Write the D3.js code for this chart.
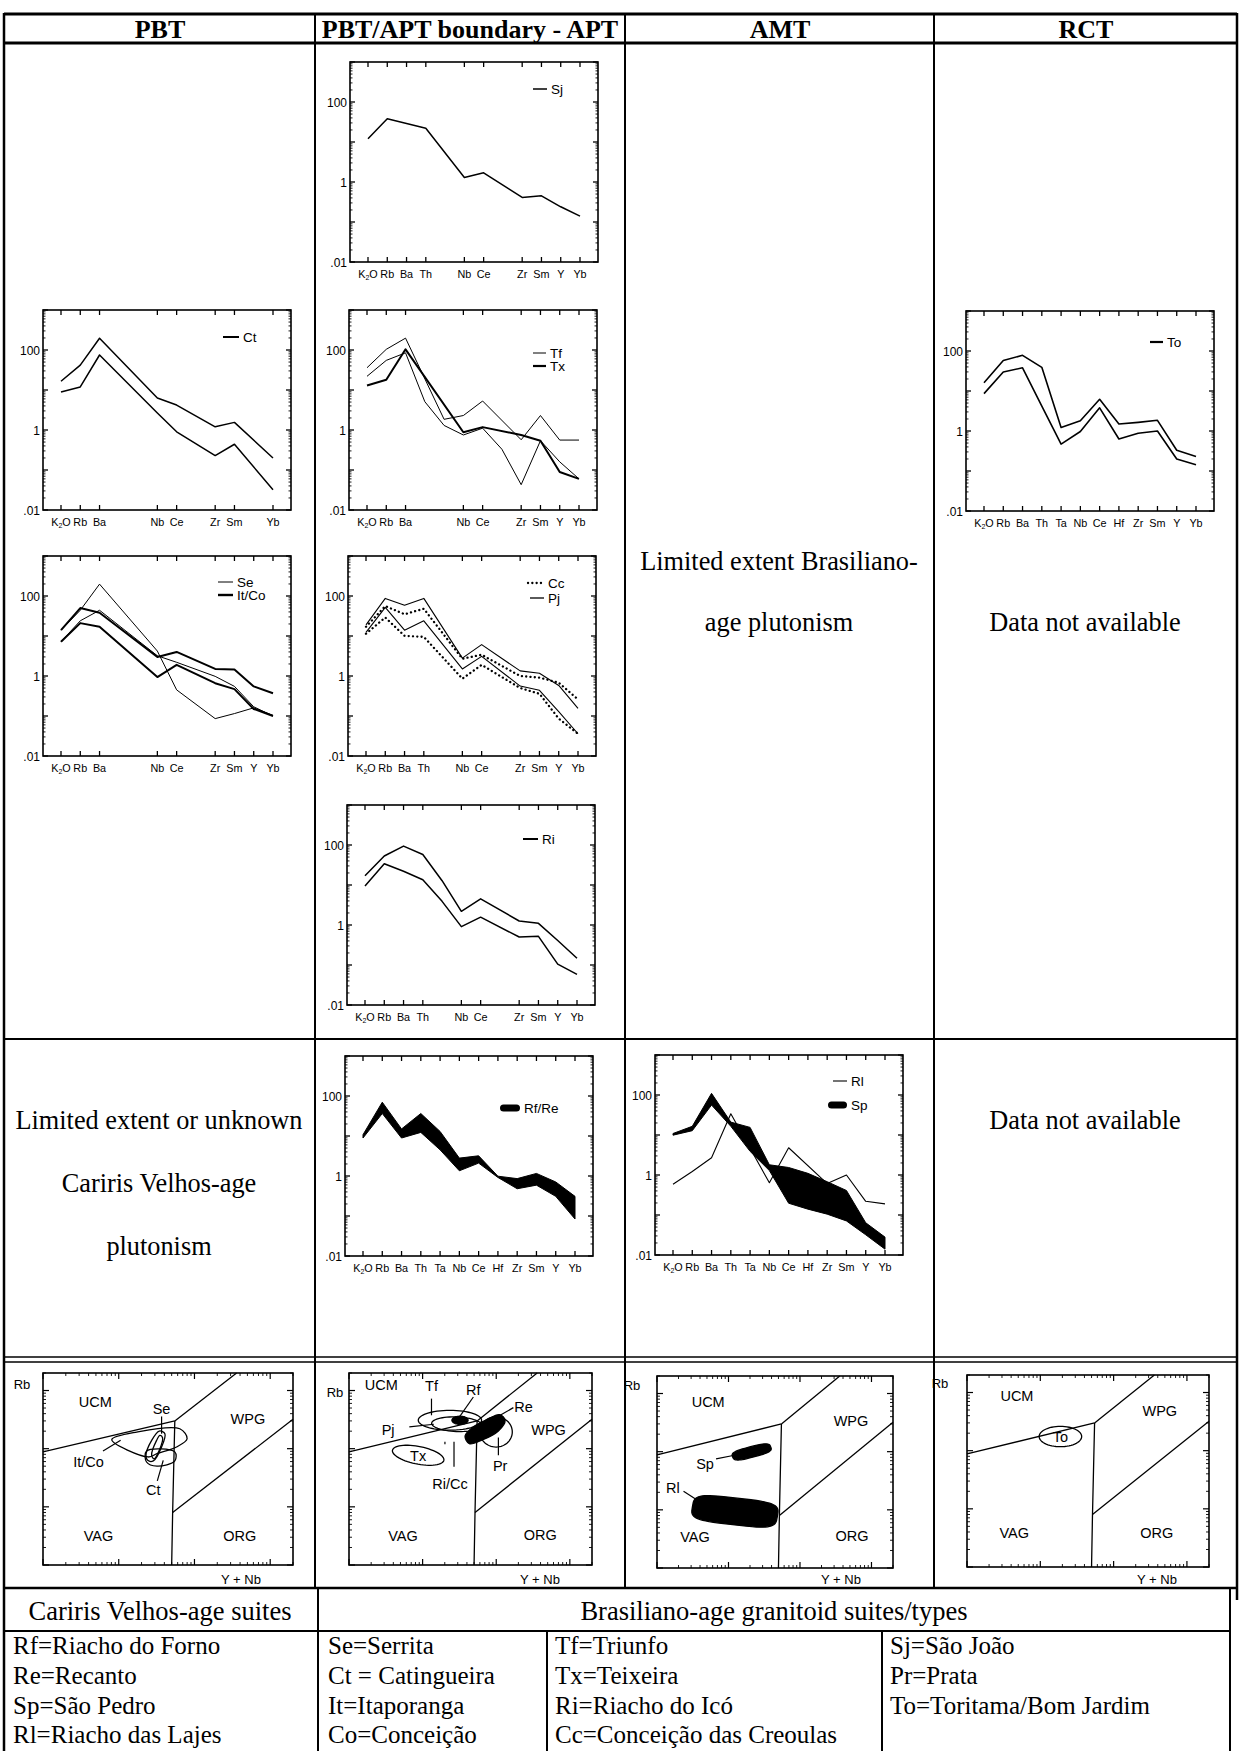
<!DOCTYPE html>
<html><head><meta charset="utf-8">
<script src="https://cdn.jsdelivr.net/npm/d3@7"></script>
<style>body{margin:0;background:#fff} svg{display:block}</style>
</head><body>
<svg id="fig" width="1242" height="1751"></svg>
<script>
// ---------------- DATA ----------------
const ELEMENTS = ["K2O","Rb","Ba","Th","Ta","Nb","Ce","Hf","Zr","Sm","Y","Yb"];
const LABELS_CT = ["K2O","Rb","Ba","Nb","Ce","Zr","Sm","Yb"];
const LABELS_NO_TH = ["K2O","Rb","Ba","Nb","Ce","Zr","Sm","Y","Yb"];
const LABELS_TH = ["K2O","Rb","Ba","Th","Nb","Ce","Zr","Sm","Y","Yb"];
const LABELS_ALL = ELEMENTS;
const Y_TICK_VALUES = [100, 1, 0.01];
const Y_TICK_TEXT = ["100", "1", ".01"];

// spider diagram series (normalized values), order = ELEMENTS
const sj    = [12, 38, 29, 22, null, 1.3, 1.7, null, 0.41, 0.45, 0.24, 0.14];
const ctHi  = [16.5, 42, 197, null, null, 6.3, 4.2, null, 1.2, 1.55, null, 0.2];
const ctLo  = [8.9, 11.9, 75, null, null, 2.66, 0.9, null, 0.23, 0.44, null, 0.032];
const tfA   = [36, 104, 198, null, 1.85, 2.3, 5.3, null, 0.57, 2.3, 0.56, 0.56];
const tfB   = [22, 55, 85, 5.1, 1.3, 0.75, 1.11, 0.33, 0.043, 0.54, 0.16, 0.06];
const tx    = [13, 18, 104, null, null, 0.88, 1.18, null, 0.75, 0.54, 0.089, 0.06];
const seA   = [14, 44, 198, null, null, 4.2, 0.45, null, 0.086, 0.115, 0.16, 0.104];
const seB   = [7.2, 24, 44, null, null, 3.2, 2.2, null, 0.98, 0.55, 0.17, 0.1];
const itcoHi= [14, 50, 38, null, null, 3.0, 4.0, null, 1.5, 1.45, 0.55, 0.37];
const itcoLo= [7.2, 21, 17, null, null, 0.94, 1.9, null, 0.66, 0.47, 0.15, 0.1];
const pjHi  = [19, 87, 59, 87, null, 2.8, 6.1, null, 1.34, 1.17, 0.58, 0.155];
const pjLo  = [12.3, 52, 14, 24, null, 1.5, 3.1, null, 0.56, 0.44, 0.128, 0.036];
const ccHi  = [17, 56, 35, 48, null, 2.7, 3.4, null, 1.0, 0.91, 0.68, 0.26];
const ccLo  = [11.4, 29, 10.1, 9.5, null, 0.86, 1.9, null, 0.5, 0.36, 0.086, 0.036];
const riHi  = [17, 53, 94, 58, 12.8, 2.2, 4.5, null, 1.26, 1.1, 0.41, 0.147];
const riLo  = [9.5, 34, 22, 13.5, 3.9, 0.91, 1.57, null, 0.5, 0.52, 0.105, 0.058];
const toHi  = [16, 58, 78, 39, 1.23, 1.81, 6.2, 1.49, 1.64, 1.85, 0.33, 0.23];
const toLo  = [8.6, 30, 38, 4.2, 0.47, 0.97, 3.8, 0.63, 0.88, 1.0, 0.2, 0.144];
const rfreHi= [10.8, 70, 15, 36.5, 13, 2.8, 3.2, 0.99, 0.86, 1.16, 0.71, 0.31];
const rfreLo= [8.9, 36.5, 8.9, 12.3, 4.5, 1.35, 2.1, 0.92, 0.48, 0.59, 0.31, 0.084];
const spHi  = [10.9, 16.5, 110, 21, 15.5, 1.8, 1.54, 1.1, 0.68, 0.41, 0.064, 0.028];
const spLo  = [9.9, 12.8, 56, 16.5, 3.9, 1.29, 0.197, 0.14, 0.105, 0.071, 0.032, 0.014];
const rl    = [0.59, 1.22, 2.7, 34, null, 0.64, 4.8, null, 0.61, 1.0, 0.22, 0.19];

// Rb vs Y+Nb discrimination diagram (ppm)
const DISC_DOMAIN = [1, 2000];
const BND_VAG_UCM = [[1, 88], [55, 300]];
const BND_UCM_WPG = [[55, 300], [360, 2000]];
const BND_VAG_ORG = [[55, 300], [51.5, 8], [50, 1]];
const BND_WPG_ORG = [[51.5, 8], [2000, 320]];

const PBT_ITCO = [[8.1,143],[17.3,193],[64,220],[80,148],[58,107],[32,82],[24.5,72]];
const PBT_CT = [[23.3,91],[55,88],[55,61.5],[32,50],[23.3,59]];
const PBT_SE_OUTER = [[22.9,77],[27.2,139],[34.3,201],[40.7,181],[36.8,107],[28.6,61.5],[24.1,63]];
const PBT_SE_INNER = [[27.2,77],[31.6,139],[35,169],[37.9,154],[34.3,94],[29.2,67]];
const PBT_LABELS = [["UCM",4.9,631],["Se",36.8,485],["WPG",508,327],["It/Co",4.0,59],["Ct",28.6,19.3],["VAG",5.4,3.1],["ORG",395,3.1]];
const PBT_POINTERS = [[[36.8,358],[36.8,181]],[[6.2,91],[10.6,139]],[[32.3,27.9],[38.7,63]]];

const APT_TF = {cx:23.5, cy:308, rx:0.43, ry:0.17, angle:0};
const APT_PJ = {cx:29, cy:263, rx:0.34, ry:0.125, angle:-3};
const APT_RF = {cx:32.2, cy:308, rx:0.11, ry:0.07, angle:0};
const APT_RE = [[37.7,164],[48.9,237],[74.3,316],[111,385],[132,308],[107,202],[63.5,140],[43.1,122]];
const APT_PR = {cx:99.6, cy:194, rx:0.22, ry:0.26, angle:0};
const APT_TX = {cx:8.7, cy:77, rx:0.36, ry:0.15, angle:-15};
const APT_LABELS = [["UCM",2.75,1228],["Tf",13.2,1180],["Rf",48.9,1035],["Re",235,521],["WPG",514,207],["Pj",3.4,207],["Tx",8.7,75],["Ri/Cc",23.5,25],["Pr",113,50],["VAG",5.4,3.1],["ORG",396,3.3]];
const APT_POINTERS = [[[13.2,725],[13.2,375]],[[48.9,774],[30.5,329]],[[171,508],[113,375]],[[6.6,237],[14.2,263]],[[26.7,131],[26.7,48.7]],[[20.1,131],[20.1,119]],[[107,155],[107,77]]];

const AMT_SP = {cx:21.1, cy:99, rx:0.28, ry:0.09, angle:18, p:0.6};
const AMT_RL = {cx:12.3, cy:9.4, rx:0.6, ry:0.23, angle:-8, p:0.5};
const AMT_LABELS = [["UCM",5.2,703],["WPG",517,343],["Sp",4.7,61],["Rl",1.67,23.5],["VAG",3.4,3.45],["ORG",533,3.6]];
const AMT_POINTERS = [[[6.7,75],[11.6,86]],[[2.35,20.8],[3.87,14]]];

const RCT_TO = {cx:18.8, cy:175, rx:0.29, ry:0.175, angle:0};
const RCT_LABELS = [["UCM",4.8,855],["WPG",427,487],["To",18.8,175],["VAG",4.4,3.8],["ORG",388,3.8]];

// text
const COLUMN_HEADERS = ["PBT","PBT/APT boundary - APT","AMT","RCT"];
const AMT_NOTE = ["Limited extent Brasiliano-","age plutonism"];
const PBT_NOTE = ["Limited extent or unknown","Cariris Velhos-age","plutonism"];
const NA_NOTE = "Data not available";
const LEGEND_HEADERS = ["Cariris Velhos-age suites","Brasiliano-age granitoid suites/types"];
const LEGEND_COL1 = ["Rf=Riacho do Forno","Re=Recanto","Sp=São Pedro","Rl=Riacho das Lajes"];
const LEGEND_COL2 = ["Se=Serrita","Ct = Catingueira","It=Itaporanga","Co=Conceição"];
const LEGEND_COL3 = ["Tf=Triunfo","Tx=Teixeira","Ri=Riacho do Icó","Cc=Conceição das Creoulas"];
const LEGEND_COL4 = ["Sj=São João","Pr=Prata","To=Toritama/Bom Jardim"];

// ---------------- DRAWING ----------------
const svg = d3.select("#fig");
const SANS = "'Liberation Sans', Arial, Helvetica, sans-serif";
const SERIF = "'Liberation Serif', 'Times New Roman', serif";

function ln(g, x1, y1, x2, y2, w) {
  g.append("line").attr("x1",x1).attr("y1",y1).attr("x2",x2).attr("y2",y2)
   .attr("stroke","#000").attr("stroke-width",w);
}

function logTicks(lo, hi) {
  const major = [], minor = [];
  for (let e = Math.floor(Math.log10(lo)); e <= Math.ceil(Math.log10(hi)); e++) {
    for (let m = 1; m <= 9; m++) {
      const v = m * Math.pow(10, e);
      if (v < lo * 0.999 || v > hi * 1.001) continue;
      (m === 1 ? major : minor).push(v);
    }
  }
  return {major, minor};
}

function elementLabel(g, name, x, y, size) {
  const t = g.append("text").attr("x",x).attr("y",y).attr("text-anchor","middle")
    .attr("font-family",SANS).attr("font-size",size);
  if (name === "K2O") {
    t.append("tspan").text("K");
    t.append("tspan").attr("font-size",size*0.65).attr("dy",2).text("2");
    t.append("tspan").attr("dy",-2).text("O");
  } else t.text(name);
}

function spider(cfg) {
  const g = svg.append("g");
  const {x0, y0, w, h} = cfg;
  const x = d3.scalePoint().domain(ELEMENTS).range([x0 + 18, x0 + w - 18]);
  const y = d3.scaleLog().domain([0.01, 1000]).range([y0 + h, y0]);

  (cfg.bands || []).forEach(b => {
    const pts = ELEMENTS.map((e,i) => ({e, lo:b.lower[i], hi:b.upper[i]})).filter(d => d.lo != null && d.hi != null);
    g.append("path").attr("d", d3.area().x(d=>x(d.e)).y0(d=>y(d.lo)).y1(d=>y(d.hi))(pts))
      .attr("fill","#000").attr("stroke","#000").attr("stroke-width",1).attr("stroke-linejoin","round");
  });
  cfg.series.forEach(s => {
    const pts = ELEMENTS.map((e,i) => ({e, v:s.values[i]})).filter(d => d.v != null);
    const p = g.append("path").attr("d", d3.line().x(d=>x(d.e)).y(d=>y(d.v))(pts))
      .attr("fill","none").attr("stroke","#000").attr("stroke-width", s.width)
      .attr("stroke-linejoin","round");
    if (s.dots) p.attr("stroke-dasharray","0.1,4.2").attr("stroke-linecap","round");
  });

  g.append("rect").attr("x",x0).attr("y",y0).attr("width",w).attr("height",h)
    .attr("fill","none").attr("stroke","#000").attr("stroke-width",1.6);

  const lt = logTicks(0.01, 1000);
  lt.major.forEach(v => { ln(g, x0, y(v), x0+5, y(v), 1.3); ln(g, x0+w, y(v), x0+w-5, y(v), 1.3); });
  lt.minor.forEach(v => { ln(g, x0, y(v), x0+2.5, y(v), 0.9); ln(g, x0+w, y(v), x0+w-2.5, y(v), 0.9); });
  Y_TICK_VALUES.forEach((v,i) => {
    g.append("text").attr("x", x0 - 3).attr("y", y(v) + 4.5).attr("text-anchor","end")
      .attr("font-family",SANS).attr("font-size",12).text(Y_TICK_TEXT[i]);
  });
  cfg.labels.forEach(n => {
    ln(g, x(n), y0+h, x(n), y0+h-5, 1.3);
    ln(g, x(n), y0, x(n), y0+5, 1.3);
    elementLabel(g, n, x(n), y0 + h + 16, 10.8);
  });

  (cfg.legend || []).forEach(L => {
    const lx = x0 + L.dx, ly = y0 + L.dy;
    if (L.type === "band") {
      g.append("rect").attr("x",lx).attr("y",ly-3.5).attr("width",L.len).attr("height",7)
        .attr("rx",3.5).attr("fill","#000");
    } else {
      const l = g.append("line").attr("x1",lx).attr("x2",lx+L.len).attr("y1",ly).attr("y2",ly)
        .attr("stroke","#000").attr("stroke-width",L.width);
      if (L.type === "dots") l.attr("stroke-dasharray","0.1,4.2").attr("stroke-linecap","round");
    }
    g.append("text").attr("x", lx + L.len + 4).attr("y", ly + 5)
      .attr("font-family",SANS).attr("font-size",13.5).text(L.label);
  });
}

function ellipsePts(e) {
  const pts = [], n = 60, a = e.angle * Math.PI / 180, p = e.p || 1;
  for (let k = 0; k < n; k++) {
    const t = k / n * 2 * Math.PI;
    const c = Math.cos(t), s = Math.sin(t);
    const u = Math.sign(c) * Math.pow(Math.abs(c), p), v = Math.sign(s) * Math.pow(Math.abs(s), p);
    const lx = Math.log10(e.cx) + e.rx*u*Math.cos(a) - e.ry*v*Math.sin(a);
    const ly = Math.log10(e.cy) + e.rx*u*Math.sin(a) + e.ry*v*Math.cos(a);
    pts.push([Math.pow(10,lx), Math.pow(10,ly)]);
  }
  return pts;
}

function discrim(cfg) {
  const g = svg.append("g");
  const {x0, y0, w, h} = cfg;
  const x = d3.scaleLog().domain(DISC_DOMAIN).range([x0, x0 + w]);
  const y = d3.scaleLog().domain(DISC_DOMAIN).range([y0 + h, y0]);
  const path = d3.line().x(d => x(d[0])).y(d => y(d[1]));

  [BND_VAG_UCM, BND_UCM_WPG, BND_VAG_ORG, BND_WPG_ORG].forEach(b =>
    g.append("path").attr("d", path(b)).attr("fill","none").attr("stroke","#000").attr("stroke-width",1.3));

  (cfg.shapes || []).forEach(s => {
    const pts = s.ellipse ? ellipsePts(s.ellipse) : s.poly;
    const gen = s.ellipse ? path.curve(d3.curveLinearClosed) : path.curve(d3.curveCatmullRomClosed);
    g.append("path").attr("d", gen(pts))
      .attr("fill", s.fill ? "#000" : "none").attr("stroke","#000").attr("stroke-width",1.3);
    path.curve(d3.curveLinear);
  });
  (cfg.pointers || []).forEach(pt =>
    g.append("path").attr("d", path(pt)).attr("fill","none").attr("stroke","#000").attr("stroke-width",1.2));

  (cfg.labels || []).forEach(L => {
    g.append("text").attr("x", x(L[1])).attr("y", y(L[2])).attr("text-anchor","middle")
      .attr("dominant-baseline","central").attr("font-family",SANS).attr("font-size",14.5).text(L[0]);
  });

  g.append("rect").attr("x",x0).attr("y",y0).attr("width",w).attr("height",h)
    .attr("fill","none").attr("stroke","#000").attr("stroke-width",1.6);
  const lt = logTicks(DISC_DOMAIN[0], DISC_DOMAIN[1]);
  lt.major.forEach(v => {
    ln(g, x(v), y0+h, x(v), y0+h-6, 1.2); ln(g, x(v), y0, x(v), y0+6, 1.2);
    ln(g, x0, y(v), x0+6, y(v), 1.2); ln(g, x0+w, y(v), x0+w-6, y(v), 1.2);
  });
  lt.minor.forEach(v => {
    ln(g, x(v), y0+h, x(v), y0+h-3, 0.9); ln(g, x(v), y0, x(v), y0+3, 0.9);
    ln(g, x0, y(v), x0+3, y(v), 0.9); ln(g, x0+w, y(v), x0+w-3, y(v), 0.9);
  });
  g.append("text").attr("x", x0 + cfg.rbDx).attr("y", y0 + cfg.rbDy).attr("text-anchor","middle")
    .attr("dominant-baseline","central").attr("font-family",SANS).attr("font-size",13).text("Rb");
  g.append("text").attr("x", x0 + w - 52).attr("y", 1579).attr("text-anchor","middle")
    .attr("dominant-baseline","central").attr("font-family",SANS).attr("font-size",13).text("Y + Nb");
}

// ---- table grid ----
const grid = svg.append("g");
ln(grid, 4, 14, 1237, 14, 3);
ln(grid, 4, 43, 1237, 43, 3);
ln(grid, 4, 13, 4, 1751, 2.5);
ln(grid, 1237, 13, 1237, 1600, 2.5);
[315, 625, 934].forEach(xv => ln(grid, xv, 14, xv, 1588, 2));
ln(grid, 4, 1039, 1237, 1039, 2);
ln(grid, 4, 1357, 1237, 1357, 1.5);
ln(grid, 4, 1362, 1237, 1362, 1.5);
ln(grid, 4, 1588, 1237, 1588, 2.5);
ln(grid, 4, 1631, 1230, 1631, 2);
ln(grid, 318, 1588, 318, 1751, 2);
ln(grid, 547, 1631, 547, 1751, 2);
ln(grid, 882, 1631, 882, 1751, 2);
ln(grid, 1230, 1588, 1230, 1751, 2);

const HEAD_X = [160, 470, 780, 1086];
COLUMN_HEADERS.forEach((t,i) => {
  svg.append("text").attr("x", HEAD_X[i]).attr("y", 29).attr("text-anchor","middle")
    .attr("dominant-baseline","central").attr("font-family",SERIF).attr("font-weight","bold")
    .attr("font-size",26).text(t);
});

function note(lines, cx, ys) {
  lines.forEach((t,i) => svg.append("text").attr("x",cx).attr("y",ys[i]).attr("text-anchor","middle")
    .attr("dominant-baseline","central").attr("font-family",SERIF).attr("font-size",26.3).text(t));
}
note(AMT_NOTE, 779, [561, 622]);
note([NA_NOTE], 1085, [622]);
note(PBT_NOTE, 159, [1120, 1183, 1246]);
note([NA_NOTE], 1085, [1120]);

[[LEGEND_HEADERS[0], 160], [LEGEND_HEADERS[1], 774]].forEach(([t, cx]) =>
  svg.append("text").attr("x",cx).attr("y",1611).attr("text-anchor","middle").attr("dominant-baseline","central")
    .attr("font-family",SERIF).attr("font-size",26.5).text(t));
const ROW_Y = [1645, 1675, 1705, 1734];
[[LEGEND_COL1, 13], [LEGEND_COL2, 328], [LEGEND_COL3, 555], [LEGEND_COL4, 890]].forEach(([col, xv]) =>
  col.forEach((t,i) => svg.append("text").attr("x",xv).attr("y",ROW_Y[i]).attr("dominant-baseline","central")
    .attr("font-family",SERIF).attr("font-size",25).text(t)));

// ---- spider diagrams ----
const W = 248, H = 200;
spider({x0:350, y0:62, w:W, h:H, labels:LABELS_TH,
  series:[{values:sj, width:1.5}],
  legend:[{label:"Sj", dx:183, dy:27, len:14, width:1.5}]});
spider({x0:43, y0:310, w:W, h:H, labels:LABELS_CT,
  series:[{values:ctHi, width:1.5},{values:ctLo, width:1.5}],
  legend:[{label:"Ct", dx:180, dy:27, len:16, width:2}]});
spider({x0:349, y0:310, w:W, h:H, labels:LABELS_NO_TH,
  series:[{values:tfA, width:1},{values:tfB, width:1},{values:tx, width:2}],
  legend:[{label:"Tf", dx:184, dy:43, len:13, width:1},{label:"Tx", dx:184, dy:56, len:13, width:2.2}]});
spider({x0:43, y0:556, w:W, h:H, labels:LABELS_NO_TH,
  series:[{values:seA, width:1},{values:seB, width:1},{values:itcoHi, width:2},{values:itcoLo, width:2}],
  legend:[{label:"Se", dx:175, dy:26, len:15, width:1},{label:"It/Co", dx:175, dy:39, len:15, width:2.4}]});
spider({x0:348, y0:556, w:W, h:H, labels:LABELS_TH,
  series:[{values:pjHi, width:1.1},{values:pjLo, width:1.1},{values:ccHi, width:2.3, dots:true},{values:ccLo, width:2.3, dots:true}],
  legend:[{label:"Cc", dx:180, dy:27, len:16, width:2.3, type:"dots"},{label:"Pj", dx:182, dy:42, len:14, width:1.3}]});
spider({x0:347, y0:805, w:W, h:H, labels:LABELS_TH,
  series:[{values:riHi, width:1.5},{values:riLo, width:1.5}],
  legend:[{label:"Ri", dx:176, dy:34, len:15, width:2}]});
spider({x0:966, y0:311, w:W, h:H, labels:LABELS_ALL,
  series:[{values:toHi, width:1.6},{values:toLo, width:1.6}],
  legend:[{label:"To", dx:184, dy:31, len:13, width:2.2}]});
spider({x0:345, y0:1056, w:W, h:H, labels:LABELS_ALL,
  series:[], bands:[{upper:rfreHi, lower:rfreLo}],
  legend:[{label:"Rf/Re", dx:155, dy:52, len:20, type:"band"}]});
spider({x0:655, y0:1055, w:W, h:H, labels:LABELS_ALL,
  series:[{values:rl, width:1.1}], bands:[{upper:spHi, lower:spLo}],
  legend:[{label:"Rl", dx:178, dy:26, len:14, width:1.1},{label:"Sp", dx:173, dy:50, len:19, type:"band"}]});

// ---- discrimination diagrams ----
discrim({x0:43, y0:1373, w:250, h:192, rbDx:-21, rbDy:11,
  shapes:[{poly:PBT_ITCO},{poly:PBT_CT},{poly:PBT_SE_OUTER},{poly:PBT_SE_INNER}],
  labels:PBT_LABELS, pointers:PBT_POINTERS});
discrim({x0:349, y0:1373, w:243, h:192, rbDx:-14, rbDy:19,
  shapes:[{ellipse:APT_TF},{ellipse:APT_PJ},{ellipse:APT_PR},{ellipse:APT_TX},{ellipse:APT_RF, fill:true},{poly:APT_RE, fill:true}],
  labels:APT_LABELS, pointers:APT_POINTERS});
discrim({x0:657, y0:1376, w:236, h:192, rbDx:-25, rbDy:9,
  shapes:[{ellipse:AMT_SP, fill:true},{ellipse:AMT_RL, fill:true}],
  labels:AMT_LABELS, pointers:AMT_POINTERS});
discrim({x0:967, y0:1375, w:242, h:192, rbDx:-27, rbDy:8,
  shapes:[{ellipse:RCT_TO}],
  labels:RCT_LABELS, pointers:[]});
</script>
</body></html>
